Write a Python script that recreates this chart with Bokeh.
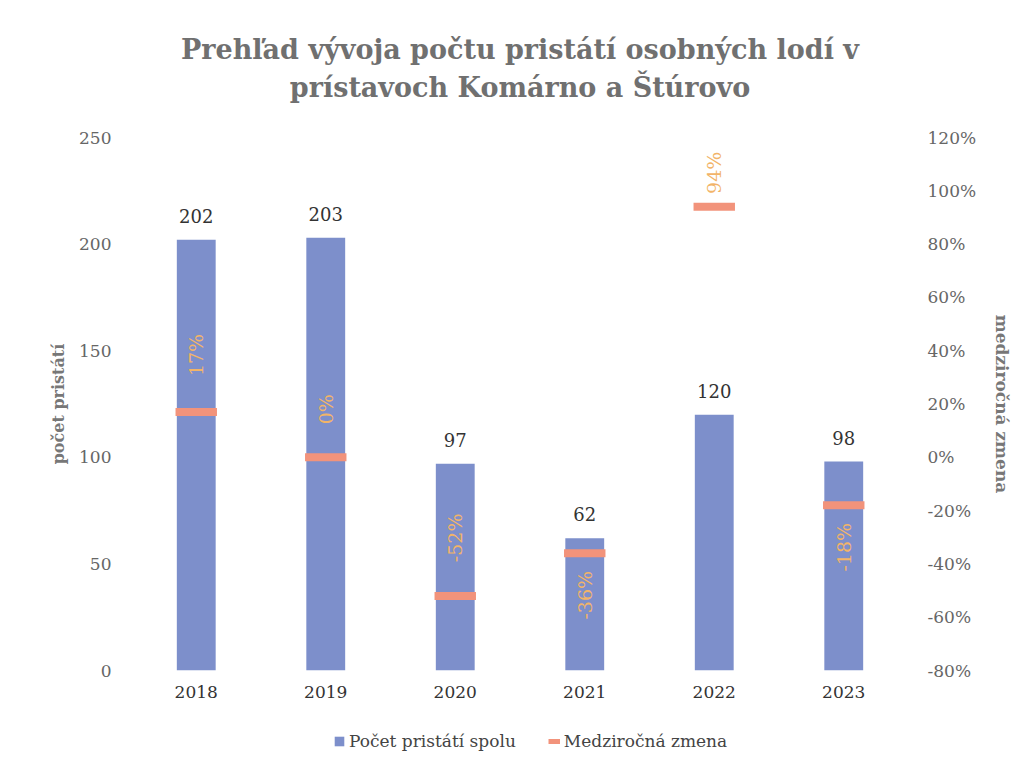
from math import pi
from bokeh.plotting import figure
from bokeh.layouts import column
from bokeh.models import (ColumnDataSource, Range1d, LinearAxis, FixedTicker,
                          NumeralTickFormatter, Legend, LegendItem, Title)
from bokeh.core.properties import value
from bokeh.embed import file_html
from bokeh.resources import INLINE

years = ["2018", "2019", "2020", "2021", "2022", "2023"]
counts = [202, 203, 97, 62, 120, 98]
change = [0.17, 0.00, -0.52, -0.36, 0.94, -0.18]
change_labels = ["17%", "0%", "-52%", "-36%", "94%", "-18%"]
left_ticks = [0, 50, 100, 150, 200, 250]
right_ticks = [-0.8, -0.6, -0.4, -0.2, 0.0, 0.2, 0.4, 0.6, 0.8, 1.0, 1.2]
# screen-pixel shift of each rotated change label relative to its marker
label_shift = [-57, -48, -58, 42, -34, 42]

BAR = "#7D8FCB"
MARK = "#F2937B"
LBL = "#F2B468"
SERIF = "DejaVu Serif"

src = ColumnDataSource(dict(year=years, count=counts, change=change,
                            clabel=change_labels, shift=label_shift,
                            vlabel=[str(c) for c in counts]))

p = figure(x_range=years, y_range=Range1d(0, 250),
           frame_width=777, frame_height=533,
           output_backend="svg", toolbar_location=None,
           min_border_left=131, min_border_right=116,
           min_border_top=137, min_border_bottom=35)
p.extra_y_ranges = {"pct": Range1d(-0.8, 1.2)}
p.x_range.range_padding = 0
p.outline_line_color = None
p.grid.grid_line_color = None
p.background_fill_color = "white"
p.border_fill_color = "white"

p.vbar(x="year", top="count", width=0.3, source=src,
       fill_color=BAR, line_color=None)
p.text(x="year", y="count", text="vlabel", source=src,
       text_align="center", text_baseline="bottom", y_offset=-17,
       text_font=value(SERIF), text_font_size="18px", text_color="#333333")

p.rect(x="year", y="change", width=0.32, height=8, height_units="screen",
       source=src, y_range_name="pct", fill_color=MARK, line_color=None)
p.text(x="year", y="change", text="clabel", source=src, y_range_name="pct",
       angle=pi / 2, text_align="center", text_baseline="middle",
       y_offset="shift", text_font=value(SERIF), text_font_size="19px",
       text_color=LBL)

# left axis
ya = p.yaxis[0]
ya.ticker = FixedTicker(ticks=left_ticks)
ya.axis_line_color = None
ya.major_tick_line_color = None
ya.minor_tick_line_color = None
ya.major_label_standoff = 14
ya.major_label_text_font = SERIF
ya.major_label_text_font_size = "17px"
ya.major_label_text_color = "#666666"
ya.axis_label = "počet pristátí"
ya.axis_label_standoff = 8
ya.axis_label_text_font = SERIF
ya.axis_label_text_font_style = "bold"
ya.axis_label_text_font_size = "16px"
ya.axis_label_text_color = "#777777"

ra = LinearAxis(y_range_name="pct", ticker=FixedTicker(ticks=right_ticks),
                formatter=NumeralTickFormatter(format="0%"))
ra.axis_line_color = None
ra.major_tick_line_color = None
ra.minor_tick_line_color = None
ra.major_label_standoff = 13
ra.major_label_text_font = SERIF
ra.major_label_text_font_size = "17px"
ra.major_label_text_color = "#666666"
ra.axis_label = "medziročná zmena"
ra.axis_label_standoff = 13
ra.axis_label_text_font = SERIF
ra.axis_label_text_font_style = "bold"
ra.axis_label_text_font_size = "17px"
ra.axis_label_text_color = "#777777"
p.add_layout(ra, "right")

xa = p.xaxis[0]
xa.axis_line_color = None
xa.major_tick_line_color = None
xa.minor_tick_line_color = None
xa.major_label_standoff = 9
xa.major_label_text_font = SERIF
xa.major_label_text_font_size = "17px"
xa.major_label_text_color = "#333333"

title_style = dict(align="center", text_font=SERIF, text_font_size="27px",
                   text_font_style="bold", text_color="#707070")
spacer = Title(text=" ", text_font_size="1px", standoff=29)
t2 = Title(text="prístavoch Komárno a Štúrovo", standoff=5, **title_style)
t1 = Title(text="Prehľad vývoja počtu pristátí osobných lodí v", standoff=5,
           **title_style)
p.add_layout(spacer, "above")
p.add_layout(t2, "above")
p.add_layout(t1, "above")
p.title.visible = False

# legend strip below the chart (proxies drawn outside the strip's view)
lg = figure(x_range=years, y_range=Range1d(1000, 1001), width=1024, height=55,
            output_backend="svg", toolbar_location=None,
            x_axis_location=None, y_axis_location=None, min_border=0)
lg.outline_line_color = None
lg.grid.grid_line_color = None
lg.border_fill_color = "white"
bar_proxy = lg.vbar(x="year", top="count", width=0.3, source=src,
                    fill_color=BAR, line_color=None)
line_proxy = lg.line(x="year", y="change", source=src,
                     line_color=MARK, line_width=5)
legend = Legend(items=[LegendItem(label="Počet pristátí spolu", renderers=[bar_proxy]),
                       LegendItem(label="Medziročná zmena", renderers=[line_proxy])],
                orientation="horizontal", location=(202, 9),
                glyph_width=12, glyph_height=12, label_standoff=4, spacing=32,
                label_text_font=SERIF, label_text_font_size="17px",
                label_text_color="#444444", border_line_color=None,
                background_fill_alpha=0, padding=4, margin=0)
lg.add_layout(legend, "center")

open("out.html", "w").write(file_html(column(p, lg), INLINE))
